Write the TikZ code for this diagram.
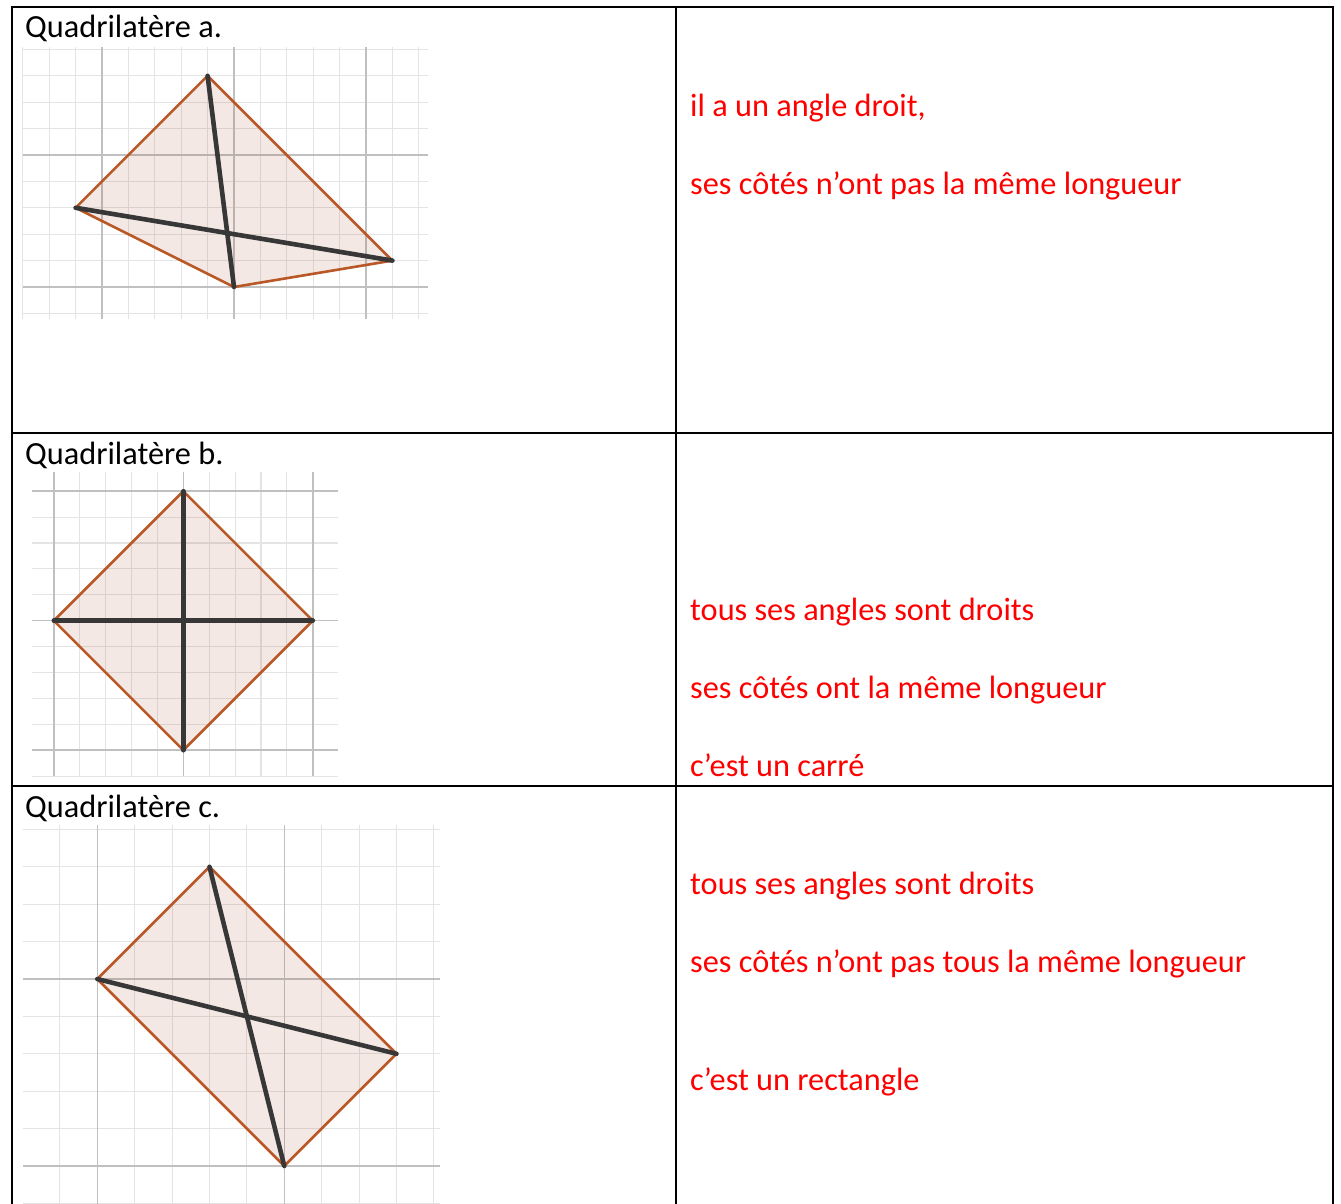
\documentclass[tikz,border=0pt]{standalone}
\usepackage{fontspec}
\setmainfont{Carlito}
\usetikzlibrary{positioning}
\definecolor{quadedge}{RGB}{185,88,38}
\definecolor{quadtint}{RGB}{160,80,50}
\definecolor{diagc}{RGB}{55,55,55}
\definecolor{minorgrid}{RGB}{228,228,228}
\definecolor{majorgrid}{RGB}{192,192,192}
\begin{document}
\begin{tikzpicture}[x=1pt, y=-1pt,
    every node/.style={font=\fontsize{32.3}{38}\selectfont, inner sep=0pt},
    title/.style={anchor=base west},
    answer/.style={anchor=base west, text=red},
    tab/.style={line width=2pt},
    gminor/.style={draw=minorgrid, line width=1.1pt},
    gmajor/.style={draw=majorgrid, line width=1.5pt},
    quad/.style={draw=quadedge, fill=quadtint, fill opacity=0.13, line width=2.6pt, line join=round},
    diagline/.style={draw=diagc, line width=4.6pt, line cap=round}
]
\useasboundingbox (0,0) rectangle (1341,1204);
% table
\draw[tab] (11.5,1204) -- (11.5,6.7) -- (1333,6.7) -- (1333,1204);
\draw[tab] (675.7,6.7) -- (675.7,1204);
\draw[tab] (11.5,432.7) -- (1333,432.7);
\draw[tab] (11.5,785.7) -- (1333,785.7);

% quadrilatere a
\node[title] (qa) at (25,38) {Quadrilatère a.};
\begin{scope}[shift={(234,287)}, x=26.4pt, y=26.4pt]
  \draw[gminor] (-8,-1.2) grid[step=1] (7.35,9.1);
  \draw[gmajor] (-8,-1.2) grid[step=5] (7.35,9.1);
  \coordinate (aB) at (0,0);
  \coordinate (aR) at (6,1);
  \coordinate (aT) at (-1,8);
  \coordinate (aL) at (-6,3);
  \draw[quad] (aB) -- (aR) -- (aT) -- (aL) -- cycle;
  \draw[diagline] (aT) -- (aB);
  \draw[diagline] (aL) -- (aR);
\end{scope}
\node[answer] (a1) at (690,116.5) {il a un angle droit,};
\node[answer] (a2) at (690,194) {ses côtés n’ont pas la même longueur};

% quadrilatere b
\node[title] (qb) at (25,464) {Quadrilatère b.};
\begin{scope}[shift={(183.3,620.7)}, x=25.9pt, y=25.9pt]
  \draw[gminor] (-5.85,-6) grid[step=1] (5.97,5.74);
  \draw[gmajor] (-5.85,-6) grid[step=5] (5.97,5.74);
  \coordinate (bB) at (0,-5);
  \coordinate (bR) at (5,0);
  \coordinate (bT) at (0,5);
  \coordinate (bL) at (-5,0);
  \draw[quad] (bB) -- (bR) -- (bT) -- (bL) -- cycle;
  \draw[diagline] (bT) -- (bB);
  \draw[diagline] (bL) -- (bR);
\end{scope}
\node[answer] (b1) at (690,620.5) {tous ses angles sont droits};
\node[answer] (b2) at (690,698.5) {ses côtés ont la même longueur};
\node[answer] (b3) at (690,776) {c’est un carré};

% quadrilatere c
\node[title] (qc) at (25,817) {Quadrilatère c.};
\begin{scope}[shift={(284.3,1166)}, x=37.4pt, y=37.4pt]
  \draw[gminor] (-6.98,-1.1) grid[step=1] (4.16,9.12);
  \draw[gmajor] (-6.98,-1.1) grid[step=5] (4.16,9.12);
  \coordinate (cB) at (0,0);
  \coordinate (cR) at (3,3);
  \coordinate (cT) at (-2,8);
  \coordinate (cL) at (-5,5);
  \draw[quad] (cB) -- (cR) -- (cT) -- (cL) -- cycle;
  \draw[diagline] (cT) -- (cB);
  \draw[diagline] (cL) -- (cR);
\end{scope}
\node[answer] (c1) at (690,894) {tous ses angles sont droits};
\node[answer] (c2) at (690,972.5) {ses côtés n’ont pas tous la même longueur};
\node[answer] (c3) at (690,1090) {c’est un rectangle};
\end{tikzpicture}
\end{document}
